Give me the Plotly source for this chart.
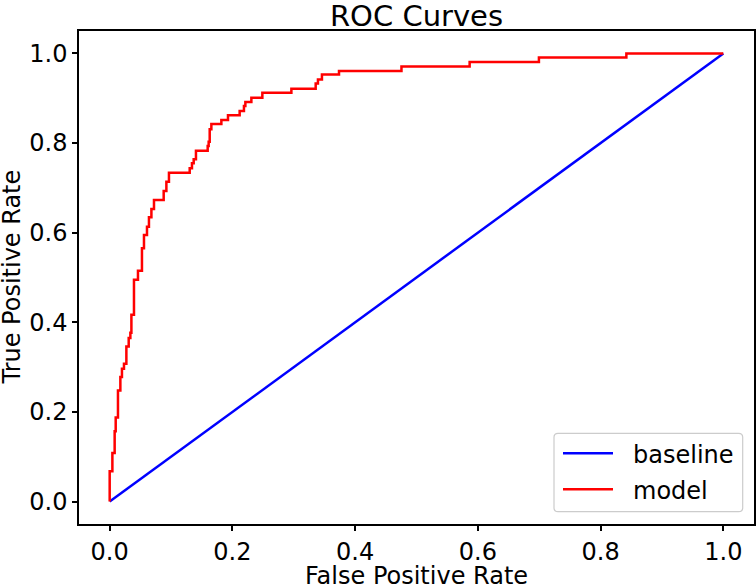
import plotly.graph_objects as go

# ROC data (points for a vertical-then-horizontal step path)
model_fpr = [0.0, 0.0044, 0.0081, 0.0098, 0.0135, 0.0174, 0.020, 0.0233, 0.0272, 0.031,
             0.0337, 0.0354, 0.0396, 0.0461, 0.0526, 0.0559, 0.0608, 0.064, 0.068, 0.0722,
             0.088, 0.0924, 0.0966, 0.1304, 0.1341, 0.1369, 0.1406, 0.1597, 0.1613, 0.163,
             0.1657, 0.182, 0.1928, 0.2118, 0.2188, 0.2211, 0.2309, 0.2488, 0.2961, 0.3357,
             0.3394, 0.3459, 0.3737, 0.4755, 0.5866, 0.6995, 0.842, 1.0]
model_tpr = [0.0, 0.0675, 0.1085, 0.1567, 0.1879, 0.248, 0.278, 0.2964, 0.3076, 0.346,
             0.365, 0.377, 0.4168, 0.4948, 0.5148, 0.5654, 0.595, 0.6135, 0.6345, 0.653,
             0.673, 0.693, 0.7138, 0.7339, 0.7437, 0.7548, 0.7638, 0.783, 0.7934, 0.803,
             0.8306, 0.8424, 0.8514, 0.8618, 0.8714, 0.8825, 0.8915, 0.901, 0.9122, 0.921,
             0.9331, 0.942, 0.953, 0.9606, 0.971, 0.9806, 0.991, 1.0]
baseline_fpr = [0.0, 1.0]
baseline_tpr = [0.0, 1.0]
tick_vals = [0.0, 0.2, 0.4, 0.6, 0.8, 1.0]
tick_text = ["0.0", "0.2", "0.4", "0.6", "0.8", "1.0"]
series_names = ["baseline", "model"]
series_colors = ["#0000ff", "#ff0000"]

FONT = "DejaVu Sans"
W, H = 756, 584
ML, MR, MT, MB = 79, 2, 31, 60
PW, PH = W - ML - MR, H - MT - MB


def px_x(p):  # pixel x -> paper x
    return (p - ML) / PW


def px_y(p):  # pixel y (from top) -> paper y
    return (H - MB - p) / PH


fig = go.Figure()
fig.add_trace(go.Scatter(x=baseline_fpr, y=baseline_tpr, mode="lines", name=series_names[0],
                         line=dict(color=series_colors[0], width=2.5)))
fig.add_trace(go.Scatter(x=model_fpr, y=model_tpr, mode="lines", name=series_names[1],
                         line=dict(color=series_colors[1], width=2.5, shape="vh")))

axis_common = dict(
    range=[-0.05, 1.05], tickvals=tick_vals, ticktext=tick_text,
    showgrid=False, zeroline=False, showline=True, mirror=True, automargin=False,
    linecolor="black", linewidth=1.5, ticks="outside", ticklen=5,
    tickwidth=1.5, tickcolor="black",
    tickfont=dict(family=FONT, size=24, color="black"),
)

# legend box (rounded rectangle) drawn in paper coordinates
bx0, bx1, by0, by1 = px_x(554), px_x(742.7), px_y(511.7), px_y(433.3)
rx, ry = 4 / PW, 4 / PH
legend_path = (f"M {bx0+rx},{by0} L {bx1-rx},{by0} Q {bx1},{by0} {bx1},{by0+ry} "
               f"L {bx1},{by1-ry} Q {bx1},{by1} {bx1-rx},{by1} "
               f"L {bx0+rx},{by1} Q {bx0},{by1} {bx0},{by1-ry} "
               f"L {bx0},{by0+ry} Q {bx0},{by0} {bx0+rx},{by0} Z")
shapes = [dict(type="path", path=legend_path, xref="paper", yref="paper",
               line=dict(color="#cccccc", width=1.2), fillcolor="white", layer="above")]
annotations = []
row_y = [453.3, 489.3]
for name, col, ry_px in zip(series_names, series_colors, row_y):
    shapes.append(dict(type="line", xref="paper", yref="paper",
                       x0=px_x(563), x1=px_x(613), y0=px_y(ry_px), y1=px_y(ry_px),
                       line=dict(color=col, width=2.5), layer="above"))
    annotations.append(dict(text=name, xref="paper", yref="paper", x=px_x(631),
                            y=px_y(ry_px + 1.5), xanchor="left", yanchor="middle",
                            showarrow=False, font=dict(family=FONT, size=24, color="black")))

# axis titles
annotations.append(dict(text="False Positive Rate", xref="paper", yref="paper",
                        x=0.5, y=px_y(576), xanchor="center", yanchor="middle",
                        showarrow=False, font=dict(family=FONT, size=24, color="black")))
annotations.append(dict(text="True Positive Rate", xref="paper", yref="paper",
                        x=px_x(11), y=0.5, xanchor="center", yanchor="middle", textangle=-90,
                        showarrow=False, font=dict(family=FONT, size=24, color="black")))

fig.update_layout(
    template="none",
    width=W, height=H,
    margin=dict(l=ML, r=MR, t=MT, b=MB),
    paper_bgcolor="white", plot_bgcolor="white",
    font=dict(family=FONT, color="black"),
    title=dict(text="ROC Curves", x=0.5, xref="paper", xanchor="center",
               y=1 - 16 / H, yanchor="middle", yref="container",
               font=dict(family=FONT, size=29, color="black")),
    xaxis=axis_common,
    yaxis=axis_common,
    showlegend=False,
    shapes=shapes,
    annotations=annotations,
)

fig.write_html("out.html", config={"displayModeBar": False},
               post_script="document.body.style.margin='0';document.body.style.overflow='hidden';")
